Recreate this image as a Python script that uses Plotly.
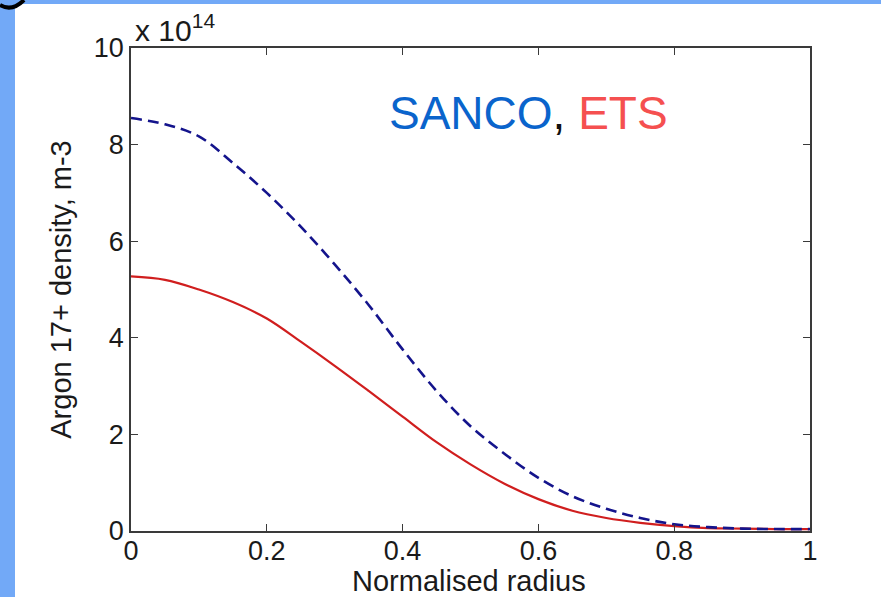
import plotly.graph_objects as go

# Normalised radius
radius = [0.0, 0.05, 0.1, 0.15, 0.2, 0.25, 0.3, 0.35, 0.4, 0.45, 0.5,
          0.55, 0.6, 0.65, 0.7, 0.75, 0.8, 0.85, 0.9, 0.95, 1.0]
# Argon 17+ density (units of 1e14 m-3)
sanco = [8.55, 8.42, 8.17, 7.62, 7.0, 6.3, 5.52, 4.68, 3.76, 2.9, 2.17,
         1.6, 1.1, 0.72, 0.46, 0.27, 0.14, 0.08, 0.05, 0.04, 0.04]
ets = [5.27, 5.2, 5.0, 4.74, 4.4, 3.92, 3.42, 2.9, 2.37, 1.84, 1.38,
       0.98, 0.66, 0.42, 0.27, 0.17, 0.1, 0.06, 0.05, 0.04, 0.04]

x_ticks = [0, 0.2, 0.4, 0.6, 0.8, 1]
x_ticklabels = ["0", "0.2", "0.4", "0.6", "0.8", "1"]
y_ticks = [0, 2, 4, 6, 8, 10]
y_ticklabels = ["0", "2", "4", "6", "8", "10"]

FONT = "Liberation Sans, Arial, sans-serif"

W, H = 881, 597
L, T, R, B = 131, 48, 810, 531


def px(x):
    return (x - L) / (R - L)


def py(y):
    return (B - y) / (B - T)


fig = go.Figure()
fig.add_trace(go.Scatter(x=radius, y=ets, mode="lines", name="ETS",
                         line=dict(color="#d01e1e", width=2.2, shape="spline")))
fig.add_trace(go.Scatter(x=radius, y=sanco, mode="lines", name="SANCO",
                         line=dict(color="#14148c", width=2.6, dash="11px,6px", shape="spline")))

axis_common = dict(
    showgrid=False, zeroline=False, showline=True, mirror="ticks",
    linecolor="#3a3a3a", linewidth=1.5, ticks="inside", ticklen=7,
    tickcolor="#3a3a3a", tickwidth=1.2, automargin=False,
    tickfont=dict(family=FONT, size=27, color="#1a1a1a"),
)

fig.update_layout(
    width=W, height=H,
    margin=dict(l=L, r=W - R, t=T, b=H - B, autoexpand=False),
    paper_bgcolor="white", plot_bgcolor="white",
    showlegend=False,
    xaxis=dict(range=[0, 1], tickvals=x_ticks, ticktext=x_ticklabels,
               ticklabelstandoff=-5, **axis_common),
    yaxis=dict(range=[0, 10], tickvals=y_ticks, ticktext=y_ticklabels,
               title=dict(text="Argon 17+ density, m-3", standoff=14,
                          font=dict(family=FONT, size=29, color="#1a1a1a")),
               **axis_common),
    shapes=[
        dict(type="rect", xref="paper", yref="paper", layer="below",
             x0=px(0), x1=px(15), y0=py(H), y1=py(0),
             fillcolor="#72a9f7", line=dict(width=0)),
        dict(type="rect", xref="paper", yref="paper", layer="below",
             x0=px(0), x1=px(W), y0=py(4), y1=py(0),
             fillcolor="#72a9f7", line=dict(width=0)),
        dict(type="path", xref="paper", yref="paper", layer="above",
             path=f"M {px(0)} {py(5)} Q {px(12)} {py(12)} {px(24)} {py(0)}",
             line=dict(color="black", width=4)),
    ],
    annotations=[
        dict(xref="paper", yref="paper", x=px(133), y=py(48), xanchor="left", yanchor="bottom",
             yshift=-1, showarrow=False,
             text="x 10<sup>14</sup>",
             font=dict(family=FONT, size=30, color="#1a1a1a")),
        dict(xref="paper", yref="paper", x=px(469), y=py(581),
             xanchor="center", yanchor="middle", showarrow=False,
             text="Normalised radius",
             font=dict(family=FONT, size=29, color="#1a1a1a")),
        dict(xref="paper", yref="paper", x=px(528), y=py(113),
             xanchor="center", yanchor="middle", showarrow=False,
             text="<span style='color:#0a64cc'>SANCO</span><span style='color:#111'>,</span> "
                  "<span style='color:#f55050'>ETS</span>",
             font=dict(family=FONT, size=46)),
    ],
)

fig.write_html("out.html", config={"displayModeBar": False},
               post_script="document.body.style.margin='0';")
